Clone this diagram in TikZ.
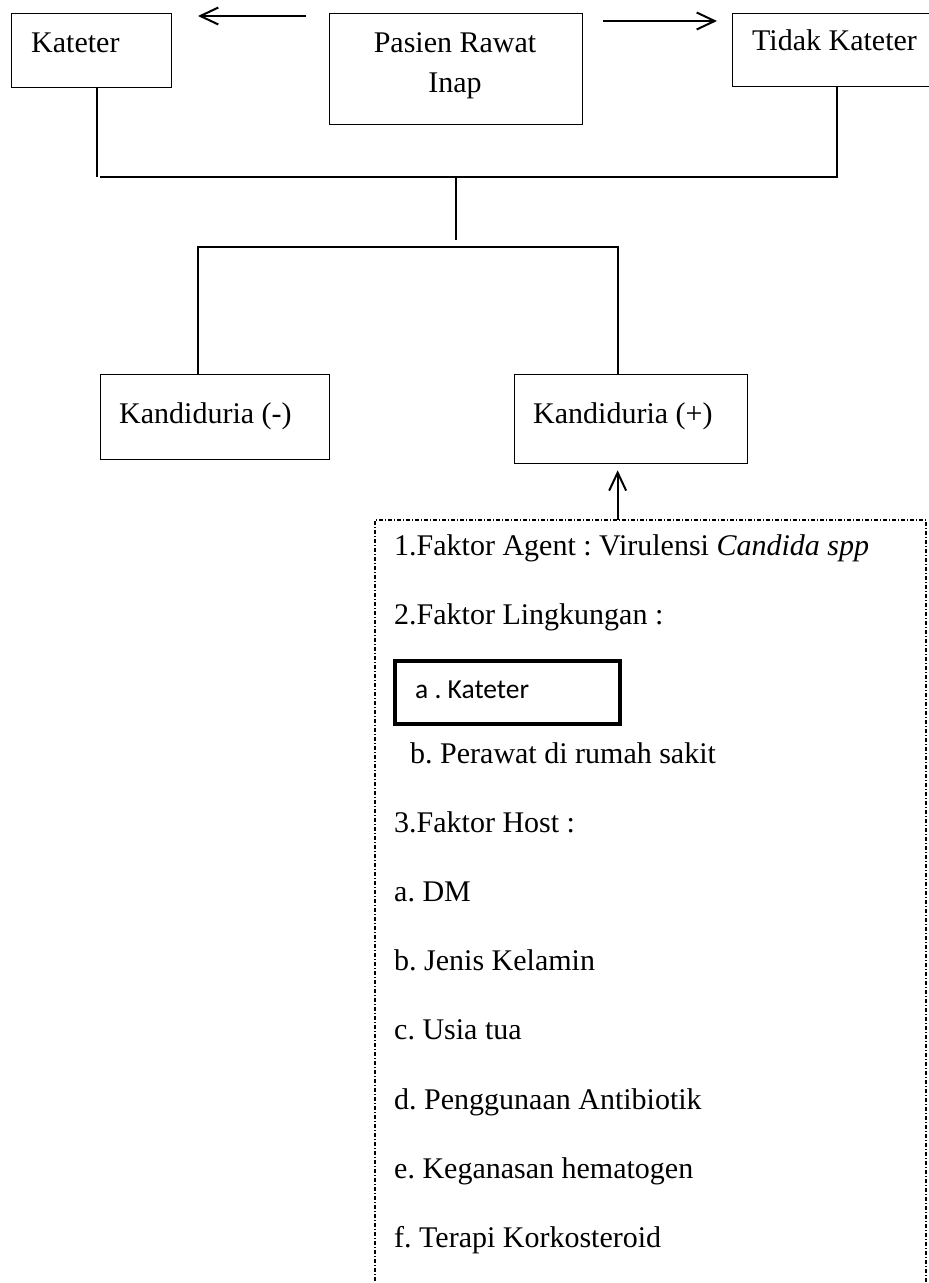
\documentclass[tikz,border=0pt]{standalone}
\usepackage{fontspec}
\setmainfont{Liberation Serif}
\newfontfamily\calibri{Carlito}
\usetikzlibrary{arrows.meta}
\frenchspacing
\begin{document}
\begin{tikzpicture}[x=1pt,y=-1pt,
  box/.style={draw,line width=1.3pt,inner sep=0pt,anchor=north west},
  txt/.style={inner sep=0pt,anchor=base west,font=\fontsize{30}{36}\selectfont},
  ctxt/.style={inner sep=0pt,anchor=base,font=\fontsize{30}{36}\selectfont},
  item/.style={inner sep=0pt,anchor=base west,font=\fontsize{30}{36}\selectfont},
  conn/.style={line width=2.2pt},
  arr/.style={line width=2pt,-{Straight Barb[length=18pt,width=17pt,line width=2pt]}},
  dashbox/.style={line width=1.2pt,dash pattern=on 4pt off 2pt on 1pt off 2pt}]
\useasboundingbox (0,0) rectangle (929,1283);
% top boxes
\node[box,minimum width=160pt,minimum height=74pt] (kat) at (11,13) {};
\node[box,minimum width=253pt,minimum height=111pt] (pas) at (329,13) {};
\node[box,minimum width=210pt,minimum height=73pt] (tid) at (732,13) {};
\node[txt] (katT) at (31,52) {Kateter};
\node[ctxt] (pasT1) at (455,52) {Pasien Rawat};
\node[ctxt] (pasT2) at (455,92) {Inap};
\node[txt] (tidT) at (752,50) {Tidak Kateter};
% top arrows
\coordinate (al1) at (306,16); \coordinate (al2) at (198,16);
\coordinate (ar1) at (603,21); \coordinate (ar2) at (717,21);
\draw[arr] (al1) -- (al2);
\draw[arr] (ar1) -- (ar2);
% tree connectors
\coordinate (hl) at (100,177);
\coordinate (y2) at (0,247);
\draw[conn] ([xshift=5pt]kat.south) -- ++(0,89);
\draw[conn] ([xshift=-0.5pt]tid.south) |- (hl);
\draw[conn] (pas.south |- hl) -- ++(0,63);
% second level
\node[box,minimum width=229pt,minimum height=85pt] (kneg) at (100,374) {};
\node[box,minimum width=233pt,minimum height=89pt] (kpos) at (514,374) {};
\node[txt] (knegT) at (119,423) {Kandiduria (-)};
\node[txt] (kposT) at (533,423) {Kandiduria (+)};
\draw[conn] ([xshift=-17.5pt]kneg.north) |- ([xshift=-13.5pt]kpos.north |- y2) -- ([xshift=-13.5pt]kpos.north);
% factor box
\coordinate (fnw) at (375,520); \coordinate (fne) at (926,520);
\coordinate (fsw) at (375,1290); \coordinate (fse) at (926,1290);
\draw[dashbox] (fsw) -- (fnw) -- (fne) -- (fse);
\draw[arr,shorten >=6pt] ([xshift=-13.5pt]kpos.south |- fnw) -- ([xshift=-13.5pt]kpos.south);
\node[item] (f1) at (394,555) {1.Faktor Agent : Virulensi \textit{Candida spp}};
\node[item] (f2) at (394,624) {2.Faktor Lingkungan :};
\node[box,line width=4pt,minimum width=225pt,minimum height=63pt] (kbox) at (393,659) {};
\node[inner sep=0pt,anchor=base west,font=\calibri\fontsize{27.5}{33}\selectfont] (kboxT) at (415,698) {a . Kateter};
\node[item] (f2b) at (410,763) {b. Perawat di rumah sakit};
\node[item] (f3) at (394,832) {3.Faktor Host :};
\node[item] (f3a) at (394,901) {a. DM};
\node[item] (f3b) at (394,970) {b. Jenis Kelamin};
\node[item] (f3c) at (394,1039) {c. Usia tua};
\node[item] (f3d) at (394,1109) {d. Penggunaan Antibiotik};
\node[item] (f3e) at (394,1178) {e. Keganasan hematogen};
\node[item] (f3f) at (394,1247) {f. Terapi Korkosteroid};
\end{tikzpicture}
\end{document}
